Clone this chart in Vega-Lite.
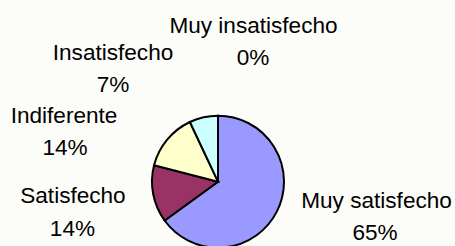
{
  "$schema": "https://vega.github.io/schema/vega-lite/v6.json",
  "width": 436,
  "height": 363.4,
  "autosize": "none",
  "padding": {"left": 0, "top": 0, "right": 19, "bottom": 0},
  "background": "#FCFCF8",
  "data": {
    "values": [
      {"cat": "Muy satisfecho", "share": 0.65, "nivel": 5},
      {"cat": "Satisfecho", "share": 0.14, "nivel": 4},
      {"cat": "Indiferente", "share": 0.14, "nivel": 3},
      {"cat": "Insatisfecho", "share": 0.07, "nivel": 2},
      {"cat": "Muy insatisfecho", "share": 0.0, "nivel": 1}
    ]
  },
  "encoding": {
    "theta": {"field": "share", "type": "quantitative", "stack": true},
    "order": {"field": "nivel", "sort": "descending"},
    "detail": {"field": "cat", "type": "nominal"}
  },
  "layer": [
    {
      "mark": {"type": "arc", "outerRadius": 66, "stroke": "#000000", "strokeWidth": 2},
      "encoding": {
        "color": {
          "field": "cat",
          "type": "nominal",
          "scale": {
            "domain": ["Muy satisfecho", "Satisfecho", "Indiferente", "Insatisfecho", "Muy insatisfecho"],
            "range": ["#9999FF", "#993366", "#FFFFCC", "#CCFFFF", "#FFFFFF"]
          },
          "legend": null
        }
      }
    },
    {
      "mark": {"type": "text", "radius": 160, "dx": 16, "dy": -46},
      "encoding": {"text": {"condition": {"test": "datum.cat === 'Muy satisfecho'", "field": "cat", "type": "nominal"}, "value": ""}}
    },
    {
      "mark": {"type": "text", "radius": 160, "dx": 14.5, "dy": -14.3},
      "encoding": {"text": {"condition": {"test": "datum.cat === 'Muy satisfecho'", "field": "share", "type": "quantitative", "format": ".0%"}, "value": ""}}
    },
    {
      "mark": {"type": "text", "radius": 150, "dx": 2.3, "dy": -6.5},
      "encoding": {"text": {"condition": {"test": "datum.cat === 'Satisfecho'", "field": "cat", "type": "nominal"}, "value": ""}}
    },
    {
      "mark": {"type": "text", "radius": 150, "dx": 1.8, "dy": 26.2},
      "encoding": {"text": {"condition": {"test": "datum.cat === 'Satisfecho'", "field": "share", "type": "quantitative", "format": ".0%"}, "value": ""}}
    },
    {
      "mark": {"type": "text", "radius": 150, "dx": -38.4, "dy": 37.2},
      "encoding": {"text": {"condition": {"test": "datum.cat === 'Indiferente'", "field": "cat", "type": "nominal"}, "value": ""}}
    },
    {
      "mark": {"type": "text", "radius": 150, "dx": -37.4, "dy": 68.9},
      "encoding": {"text": {"condition": {"test": "datum.cat === 'Indiferente'", "field": "share", "type": "quantitative", "format": ".0%"}, "value": ""}}
    },
    {
      "mark": {"type": "text", "radius": 126, "dx": -77.5, "dy": 1.3},
      "encoding": {"text": {"condition": {"test": "datum.cat === 'Insatisfecho'", "field": "cat", "type": "nominal"}, "value": ""}}
    },
    {
      "mark": {"type": "text", "radius": 126, "dx": -77.5, "dy": 33},
      "encoding": {"text": {"condition": {"test": "datum.cat === 'Insatisfecho'", "field": "share", "type": "quantitative", "format": ".0%"}, "value": ""}}
    },
    {
      "mark": {"type": "text", "radius": 130, "dx": 35.5, "dy": -18.4},
      "encoding": {"text": {"condition": {"test": "datum.cat === 'Muy insatisfecho'", "field": "cat", "type": "nominal"}, "value": ""}}
    },
    {
      "mark": {"type": "text", "radius": 130, "dx": 35, "dy": 13.3},
      "encoding": {"text": {"condition": {"test": "datum.cat === 'Muy insatisfecho'", "field": "share", "type": "quantitative", "format": ".0%"}, "value": ""}}
    }
  ],
  "config": {
    "view": {"stroke": null},
    "text": {"font": "Liberation Sans", "fontSize": 22.6, "color": "#000000", "align": "center", "baseline": "alphabetic"}
  }
}
